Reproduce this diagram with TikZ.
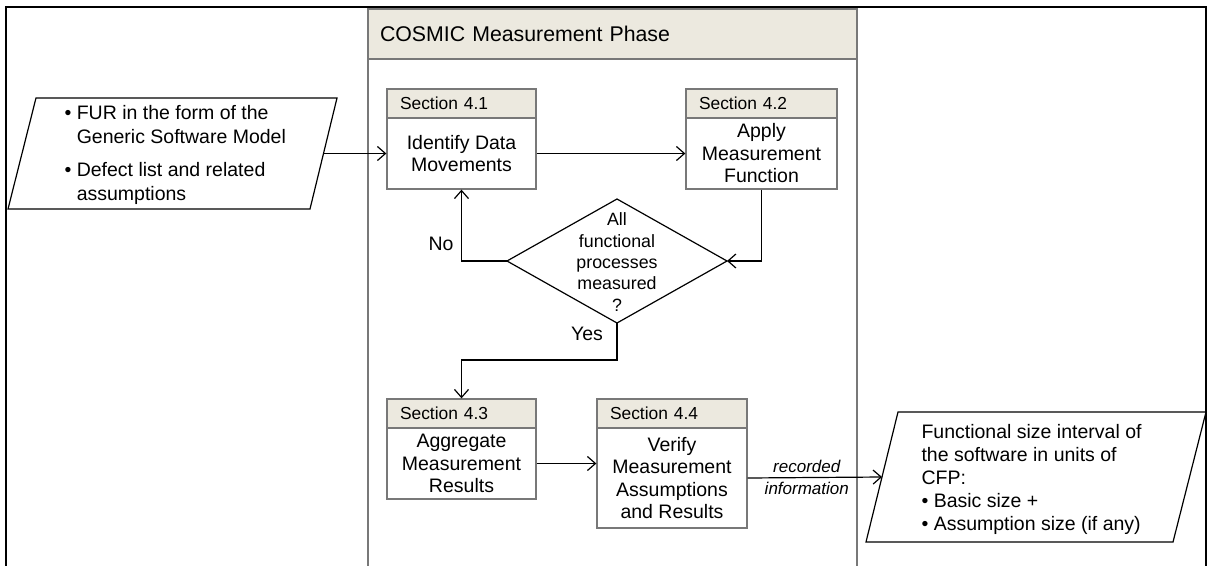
\documentclass[tikz,border=0pt]{standalone}
\usepackage{fontspec}
\setmainfont{Liberation Sans}
\usetikzlibrary{arrows.meta,shapes.geometric}
\definecolor{hdrfill}{RGB}{236,233,223}
\definecolor{boxline}{RGB}{120,120,120}
\begin{document}
\begin{tikzpicture}[x=1pt,y=-1pt,
 arr/.style={line width=1.2pt, -{Straight Barb[length=8pt,width=14pt,line width=1.2pt]}},
 hdr/.style={draw=boxline, line width=1.3pt, fill=hdrfill, minimum height=29pt, inner ysep=0pt, inner xsep=13pt, align=left, font=\fontsize{17.4}{20}\selectfont},
 secbody/.style={draw=boxline, line width=1.3pt, fill=white, inner sep=0pt, align=center, font=\fontsize{19.5}{22.5}\selectfont},
 paraline/.style={draw, line width=1.2pt, line join=miter},
 lbl/.style={font=\fontsize{19.5}{22.5}\selectfont},
 ptext/.style={font=\fontsize{19.5}{23.5}\selectfont, align=left, anchor=west}
]
\useasboundingbox (0,0) rectangle (1210,565);
\fill[white] (0,0) rectangle (1210,565);
% outer frame
\draw[line width=2.5pt] (6,580) -- (6,7) -- (1206,7) -- (1206,580);
% pool
\node[draw=boxline, line width=1.3pt, minimum width=489pt, minimum height=571pt, anchor=north west, inner sep=0pt, outer sep=0pt] (pool) at (368,9) {};
\node[hdr, minimum height=50pt, inner xsep=12pt, text width=465pt, font=\fontsize{21.3}{24}\selectfont] (poolh) at (612.5,34) {COSMIC Measurement Phase};
% sections
\node[hdr, text width=123pt] (s41h) at (461.5,103.5) {Section 4.1};
\node[secbody, minimum width=149pt, minimum height=71pt] (s41) at (461.5,153.5) {Identify Data\\Movements};
\node[hdr, text width=125pt] (s42h) at (761.5,103.5) {Section 4.2};
\node[secbody, minimum width=151pt, minimum height=71pt] (s42) at (761.5,153.5) {Apply\\Measurement\\Function};
\node[hdr, text width=123pt] (s43h) at (461.5,413.5) {Section 4.3};
\node[secbody, minimum width=149pt, minimum height=71pt] (s43) at (461.5,463.5) {Aggregate\\Measurement\\Results};
\node[hdr, text width=124pt, inner xsep=13pt] (s44h) at (672,413.5) {Section 4.4};
\node[secbody, minimum width=150pt, minimum height=100pt] (s44) at (672,478) {Verify\\Measurement\\Assumptions\\and Results};
% decision
\node[diamond, draw, line width=1.2pt, minimum width=220pt, minimum height=124pt, inner sep=0pt, outer sep=0pt] (dec) at (617,261) {};
\node[font=\fontsize{17.8}{21.3}\selectfont, align=center] (dect) at (617,262) {All\\functional\\processes\\measured\\?};
% input / output
\draw[paraline] (8,209) -- (36,98) -- (337,98) -- (310,209) -- cycle;
\coordinate (inp) at (323.5,153.5);
\node[ptext] (inpt) at (61,155) {• FUR in the form of the\\\hphantom{•\ }Generic Software Model\\[10pt]• Defect list and related\\\hphantom{•\ }assumptions};
\draw[paraline] (866,542) -- (898,412) -- (1206,412) -- (1173,542) -- cycle;
\coordinate (out) at (882,477);
\node[ptext, font=\fontsize{19.5}{23}\selectfont] (outt) at (918,479) {Functional size interval of\\the software in units of\\CFP:\\• Basic size +\\• Assumption size (if any)};
% connectors
\draw[arr] (inp) -- (s41.west);
\draw[arr] (s41.east) -- (s42.west);
\draw[arr] (s42.south) |- (dec.east);
\draw[arr] (dec.west) -| (s41.south);
\node[lbl] (no) at (441,244) {No};
\draw[arr] (dec.south) -- ++(0,37) -| (s43h.north);
\node[lbl] (yes) at (587,334) {Yes};
\draw[arr] (s43.east) -- (s43.east -| s44.west);
\draw[arr] (s44.east) -- node[pos=0.44, align=center, font=\fontsize{17}{22}\selectfont\itshape] (rec) {recorded\\information} (out);
\end{tikzpicture}
\end{document}
